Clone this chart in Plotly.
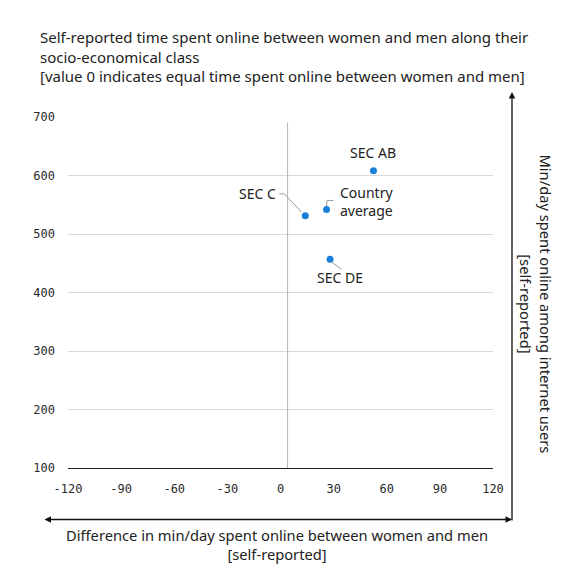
import plotly.graph_objects as go

# data
sec_labels = ['SEC AB', 'SEC C', 'Country<br>average', 'SEC DE']
gap_minutes = [52.5, 14, 26, 28]          # women minus men, min/day
online_minutes = [608, 531, 542, 457]     # min/day online
x_ticks = [-120, -90, -60, -30, 0, 30, 60, 90, 120]
y_ticks = [100, 200, 300, 400, 500, 600, 700]

# layout constants (pixels); the page body adds an 8px margin
PAGE_OFFSET = 8
W, H = 573, 573
M = dict(l=60, r=88, t=109, b=113)
X_RANGE = [-120, 120]
Y_RANGE = [100, 700]
PLOT_W = W - M['l'] - M['r']
PLOT_H = H - M['t'] - M['b']
PX_X = PLOT_W / (X_RANGE[1] - X_RANGE[0])
PX_Y = PLOT_H / (Y_RANGE[1] - Y_RANGE[0])
REF_LINE_X = 4  # vertical reference line as drawn in the source

TEXT_FONT = 'Noto Sans'
TICK_FONT = 'DejaVu Sans Mono'
DOT = '#1a7fd8'
LEADER = '#9a9a9a'
INK = '#222222'


def px_to_data(i, dx, dy):
    """point i shifted by pixel offsets (dy positive = down)"""
    return gap_minutes[i] + dx / PX_X, online_minutes[i] - dy / PX_Y


def paper_x(px):
    # px measured on the page
    return (px - PAGE_OFFSET - M['l']) / PLOT_W


def paper_y(py):
    return (H - M['b'] - (py - PAGE_OFFSET)) / PLOT_H


# pixel offsets of leader line vertices relative to each dot
leader_offsets = {
    1: [(-4, -4), (-21, -22), (-26, -22)],
    2: [(0, -3), (0.5, -9), (7, -9)],
    3: [(2, 3.5), (11.5, 10)],
}

fig = go.Figure()

for i, pts in leader_offsets.items():
    xy = [px_to_data(i, dx, dy) for dx, dy in pts]
    fig.add_trace(go.Scatter(
        x=[p[0] for p in xy], y=[p[1] for p in xy], mode='lines',
        line=dict(color=LEADER, width=1), hoverinfo='skip', showlegend=False,
    ))

fig.add_trace(go.Scatter(
    x=gap_minutes, y=online_minutes, mode='markers',
    marker=dict(color=DOT, size=7), showlegend=False,
    text=[s.replace('<br>', ' ') for s in sec_labels], hoverinfo='text',
))

# point labels: (xanchor, xshift, yshift)
label_pos = [
    ('center', 0, 18),
    ('right', -27, 22),
    ('left', 11, 8),
    ('center', 10, -18),
]
for i, (anchor, xs, ys) in enumerate(label_pos):
    fig.add_annotation(
        x=gap_minutes[i], y=online_minutes[i], text=sec_labels[i],
        showarrow=False, xanchor=anchor, yanchor='middle', align='left',
        xshift=xs, yshift=ys, font=dict(family=TEXT_FONT, size=14, color=INK),
    )

# vertical reference line
fig.add_shape(type='line', xref='x', yref='y', x0=REF_LINE_X, x1=REF_LINE_X,
              y0=Y_RANGE[0], y1=690, line=dict(color='#b5b5b5', width=1))

# framing arrows
fig.add_annotation(x=paper_x(512), y=paper_y(519.5), xref='paper', yref='paper',
                   ax=-469, ay=0, axref='pixel', ayref='pixel', text='',
                   showarrow=True, arrowhead=2, arrowside='end+start',
                   arrowsize=1, arrowwidth=1.3, arrowcolor='#111')
fig.add_annotation(x=paper_x(512), y=paper_y(92), xref='paper', yref='paper',
                   ax=0, ay=430, axref='pixel', ayref='pixel', text='',
                   showarrow=True, arrowhead=2, arrowsize=1, arrowwidth=1.3,
                   arrowcolor='#111')

# axis titles
fig.add_annotation(x=paper_x(277), y=paper_y(544), xref='paper', yref='paper',
                   text='Difference in min/day spent online between women and men<br>[self-reported]',
                   showarrow=False, xanchor='center', yanchor='middle', align='center',
                   font=dict(family=TEXT_FONT, size=14.7, color=INK))
fig.add_annotation(x=paper_x(536.5), y=paper_y(304), xref='paper', yref='paper',
                   text='Min/day spent online among internet users<br>[self-reported]',
                   showarrow=False, textangle=90, xanchor='center', yanchor='middle',
                   align='center', font=dict(family=TEXT_FONT, size=14.7, color=INK))

fig.update_layout(
    width=W, height=H, margin=M,
    paper_bgcolor='white', plot_bgcolor='white',
    title=dict(
        text='Self-reported time spent online between women and men along their<br>'
             'socio-economical class<br>'
             '[value 0 indicates equal time spent online between women and men]',
        x=(40 - PAGE_OFFSET) / W, xanchor='left', xref='container',
        y=1 - 35 / H, yanchor='top', yref='container',
        font=dict(family=TEXT_FONT, size=15, color=INK),
    ),
    xaxis=dict(range=X_RANGE, tickvals=x_ticks, ticktext=[str(v) for v in x_ticks],
               showgrid=False, zeroline=False,
               showline=True, linecolor='#222', linewidth=1, ticks='',
               ticklabelstandoff=10,
               tickfont=dict(family=TICK_FONT, size=12, color='#2a2a2a')),
    yaxis=dict(range=Y_RANGE, tickvals=y_ticks, showgrid=True, gridcolor='#d9d9d9',
               gridwidth=1, zeroline=False, showline=False, ticks='',
               ticklabelstandoff=12,
               tickfont=dict(family=TICK_FONT, size=12, color='#2a2a2a')),
)

fig.write_html('out.html')
